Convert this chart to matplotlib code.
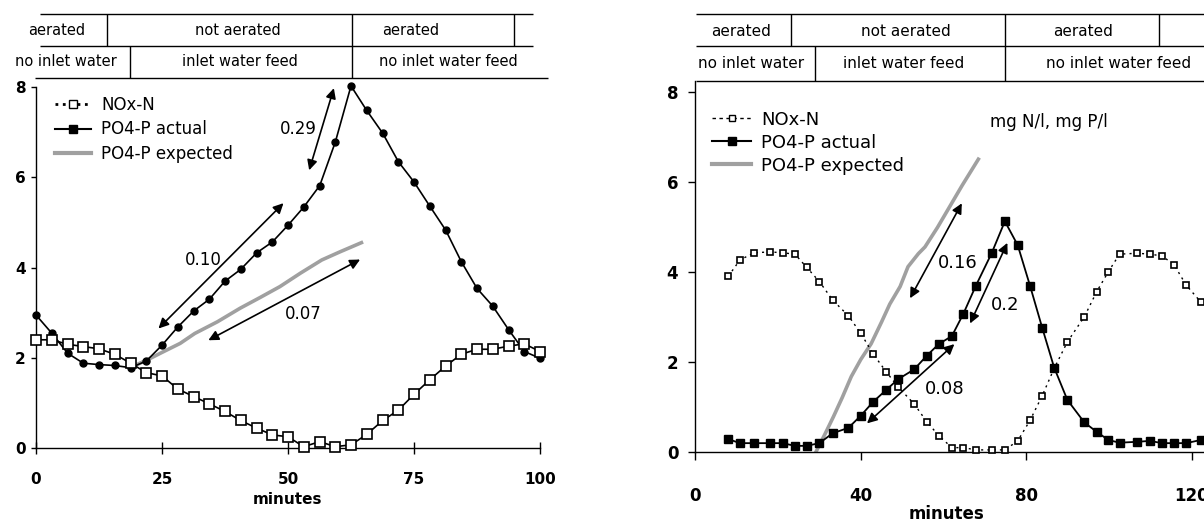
import matplotlib.pyplot as plt
from matplotlib.lines import Line2D

W, H = 1204, 525

# ---- left panel: tank run 1 (x in minutes) ----
left_t = [0, 3.1, 6.3, 9.4, 12.5, 15.6, 18.8, 21.9, 25.0, 28.1, 31.3, 34.4, 37.5,
          40.6, 43.8, 46.9, 50.0, 53.1, 56.3, 59.4, 62.5, 65.6, 68.8, 71.9, 75.0,
          78.1, 81.3, 84.4, 87.5, 90.6, 93.8, 96.9, 100.0]
left_nox = [2.40, 2.40, 2.30, 2.25, 2.20, 2.08, 1.88, 1.67, 1.60, 1.31, 1.14, 0.98, 0.81,
            0.61, 0.44, 0.29, 0.25, 0.03, 0.14, 0.03, 0.07, 0.30, 0.61, 0.84, 1.19,
            1.51, 1.82, 2.08, 2.19, 2.19, 2.26, 2.31, 2.14]
left_po4 = [2.95, 2.55, 2.10, 1.88, 1.85, 1.83, 1.78, 1.93, 2.28, 2.68, 3.04, 3.30, 3.70,
            3.96, 4.33, 4.57, 4.94, 5.34, 5.82, 6.79, 8.03, 7.49, 6.98, 6.35, 5.90,
            5.37, 4.83, 4.13, 3.54, 3.15, 2.62, 2.14, 1.99]
left_exp_t = [19, 22, 25, 28.6, 31.5, 36, 40.5, 44.5, 48.4, 52.5, 56.7, 60.3, 64.9]
left_exp = [1.80, 1.95, 2.12, 2.32, 2.54, 2.80, 3.10, 3.34, 3.58, 3.88, 4.17, 4.35, 4.57]
# slope arrows: (tail, head), label, label position
left_arrows = [((54.2, 6.16), (59.1, 7.98)), ((24.3, 2.65), (49.1, 5.43)), ((34.2, 2.39), (64.3, 4.18))]
left_rate_labels = ["0.29", "0.10", "0.07"]
left_rate_pos = [(52.0, 7.07), (33.2, 4.16), (53.0, 2.97)]

# ---- right panel: tank run 2 ----
right_t = [8.0, 10.8, 14.2, 18.1, 21.1, 24.1, 26.9, 30.0, 33.2, 37.0, 40.0, 43.0, 46.1,
           49.0, 52.9, 55.9, 58.8, 62.0, 64.8, 67.8, 71.6, 74.8, 77.9, 80.9, 83.8, 86.7,
           89.9, 94.0, 97.0, 99.8, 102.5, 106.8, 109.8, 112.8, 115.7, 118.6, 122.1]
right_nox = [3.90, 4.26, 4.42, 4.44, 4.42, 4.39, 4.10, 3.78, 3.37, 3.02, 2.63, 2.17, 1.78,
             1.44, 1.06, 0.67, 0.36, 0.09, 0.09, 0.04, 0.04, 0.04, 0.24, 0.70, 1.24, 1.85,
             2.44, 3.00, 3.56, 4.00, 4.39, 4.41, 4.39, 4.35, 4.15, 3.70, 3.33]
right_po4 = [0.28, 0.19, 0.19, 0.19, 0.19, 0.13, 0.13, 0.19, 0.41, 0.53, 0.80, 1.11, 1.37,
             1.61, 1.83, 2.13, 2.39, 2.57, 3.07, 3.69, 4.41, 5.12, 4.59, 3.68, 2.76, 1.87,
             1.15, 0.65, 0.44, 0.26, 0.20, 0.22, 0.24, 0.19, 0.19, 0.19, 0.26]
right_exp_t = [29.2, 31.5, 33.4, 35.5, 37.7, 40.0, 42.5, 45.0, 47.0, 49.5, 51.4, 53.9,
               55.5, 58.5, 61.5, 64.5, 68.4]
right_exp = [0.0, 0.42, 0.78, 1.20, 1.67, 2.05, 2.40, 2.88, 3.28, 3.67, 4.11, 4.40,
             4.55, 4.98, 5.45, 5.92, 6.50]
right_arrows = [((51.9, 3.41), (64.4, 5.52)), ((66.4, 2.85), (75.4, 4.64)), ((41.5, 0.63), (62.6, 2.39))]
right_rate_labels = ["0.16", "0.2", "0.08"]
right_rate_pos = [(63.3, 4.19), (74.8, 3.26), (60.3, 1.39)]

# ---- phase tables above the panels ----
phase_row1 = ["aerated", "not aerated", "aerated"]
phase_row2 = ["no inlet water", "inlet water feed", "no inlet water feed"]

plt.rcParams['font.family'] = 'DejaVu Sans'
fig = plt.figure(figsize=(W / 100, H / 100), dpi=100)


def px_axes(x0, x1, ytop, ybot):
    return fig.add_axes([x0 / W, 1 - ybot / H, (x1 - x0) / W, (ybot - ytop) / H])


def style_axes(ax, xticks, lbl_size, xdir, xlen, xpad, ylen, ypad):
    for s in ('top', 'right'):
        ax.spines[s].set_visible(False)
    for s in ('left', 'bottom'):
        ax.spines[s].set_linewidth(1.0)
    ax.set_xticks(xticks)
    ax.set_yticks([0, 2, 4, 6, 8])
    ax.tick_params(axis='x', direction=xdir, length=xlen, width=1.0, pad=xpad, labelsize=lbl_size)
    ax.tick_params(axis='y', direction='out', length=ylen, width=1.0, pad=ypad, labelsize=lbl_size)
    for lab in ax.get_xticklabels() + ax.get_yticklabels():
        lab.set_fontweight('bold')


def draw_arrows(ax, arrows, labels, pos, fs):
    for (tail, head), lab, (lx, ly) in zip(arrows, labels, pos):
        ax.annotate('', xy=head, xytext=tail,
                    arrowprops=dict(arrowstyle='<|-|>', color='black', lw=1.2,
                                    mutation_scale=15, shrinkA=0, shrinkB=0))
        ax.text(lx, ly, lab, fontsize=fs, ha='center', va='center')


# left panel
ax1 = px_axes(36, 540, 87.3, 448)
ax1.set_xlim(0, 100)
ax1.set_ylim(0, 8)
ax1.plot(left_exp_t, left_exp, color='#a0a0a0', lw=2.6, solid_capstyle='butt', zorder=2)
ax1.plot(left_t, left_po4, color='black', lw=1.2, marker='o', ms=5, zorder=3, clip_on=False)
ax1.plot(left_t, left_nox, color='black', lw=1.2, marker='s', ms=6.5, mfc='white',
         mec='black', mew=1.2, zorder=4, clip_on=False)
draw_arrows(ax1, left_arrows, left_rate_labels, left_rate_pos, 12)
style_axes(ax1, [0, 25, 50, 75, 100], 11, 'inout', 8, 13.5, 3.6, 4)

h1 = [Line2D([], [], color='black', ls=':', lw=2, marker='s', ms=6, mfc='white', mec='black'),
      Line2D([], [], color='black', ls='-', lw=1.5, marker='s', ms=6),
      Line2D([], [], color='#a0a0a0', lw=3)]
ax1.legend(h1, ["NOx-N", "PO4-P actual", "PO4-P expected"], loc='upper left',
           bbox_to_anchor=(0.037, 0.975), frameon=False, fontsize=12, borderpad=0,
           borderaxespad=0, handlelength=2.2, handletextpad=0.6, labelspacing=0.37)

# right panel
ax2 = px_axes(695.2, 695.2 + 125 * 4.14, 80.9, 451.7)
ax2.set_xlim(0, 125)
ax2.set_ylim(0, 8.24)
ax2.plot(right_exp_t, right_exp, color='#a0a0a0', lw=2.6, zorder=2)
ax2.plot(right_t, right_nox, color='black', lw=1.0, ls=(0, (1.5, 3)), marker='s', ms=4.5,
         mfc='white', mec='black', mew=1.2, zorder=3, clip_on=False)
ax2.plot(right_t, right_po4, color='black', lw=1.3, marker='s', ms=5.5, zorder=4, clip_on=False)
draw_arrows(ax2, right_arrows, right_rate_labels, right_rate_pos, 13)
ax2.text(71.2, 7.33, "mg N/l, mg P/l", fontsize=12, ha='left', va='center')
style_axes(ax2, [0, 40, 80, 120], 12, 'out', 6, 19.7, 4.8, 7.4)

h2 = [Line2D([], [], color='black', ls=(0, (2.5, 2.5)), lw=1, marker='s', ms=5, mfc='white', mec='black'),
      Line2D([], [], color='black', ls='-', lw=1.5, marker='s', ms=6),
      Line2D([], [], color='#a0a0a0', lw=3)]
ax2.legend(h2, ["NOx-N", "PO4-P actual", "PO4-P expected"], loc='upper left',
           bbox_to_anchor=(0.032, 0.92), frameon=False, fontsize=13, borderpad=0,
           borderaxespad=0, handlelength=2.2, handletextpad=0.55, labelspacing=0.28)

fig.text(288 / W, 1 - 500 / H, "minutes", ha='center', va='center', fontsize=11, fontweight='bold')
fig.text(946 / W, 1 - 514 / H, "minutes", ha='center', va='center', fontsize=12, fontweight='bold')

# phase tables drawn in a pixel-space overlay
ov = fig.add_axes([0, 0, 1, 1])
ov.set_xlim(0, W)
ov.set_ylim(H, 0)
ov.axis('off')
ov.patch.set_alpha(0)

kw = dict(color='black', lw=1.0)
# left table
ov.hlines([14, 45.7], 40, 533, **kw)
ov.hlines(77.7, 34.5, 548, **kw)
ov.vlines([106.5, 351.7, 514.2], 14, 45.7, **kw)
ov.vlines([129.5, 351.7], 45.7, 77.7, **kw)
for lab, x in zip(phase_row1, [56.7, 238.3, 411.1]):
    ov.text(x, 30.5, lab, fontsize=10.5, ha='center', va='center')
for lab, x in zip(phase_row2, [66.3, 240.2, 448.3]):
    ov.text(x, 62, lab, fontsize=10.5, ha='center', va='center')
# right table
ov.hlines([14, 45.7, 81], 696, W, **kw)
ov.vlines([791.4, 1005.2, 1159.3], 14, 45.7, **kw)
ov.vlines([815, 1005.2], 45.7, 81, **kw)
for lab, x in zip(phase_row1, [740.6, 906.2, 1083.4]):
    ov.text(x, 31, lab, fontsize=11, ha='center', va='center')
for lab, x in zip(phase_row2, [751.4, 903.5, 1118.1]):
    ov.text(x, 64, lab, fontsize=11, ha='center', va='center')

fig.savefig('out.png', dpi=100)
plt.close(fig)
